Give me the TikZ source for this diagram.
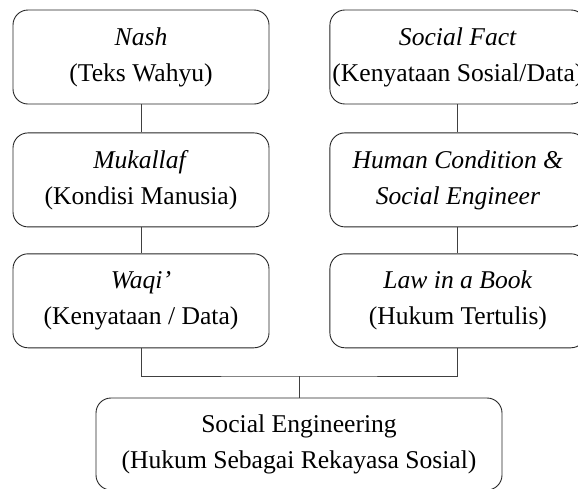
\documentclass[tikz,border=0pt]{standalone}
\usepackage{fontspec}
\setmainfont{Liberation Serif}
\usetikzlibrary{positioning}

\begin{document}
\begin{tikzpicture}[x=1pt, y=1pt]
	\tikzstyle{main}=[rectangle, rounded corners=15pt, draw=black!85, line width=0.9pt, minimum width=256pt, minimum height=94pt, inner xsep=1pt, align=center, font=\fontsize{25.6}{36}\selectfont, node distance=28pt]
\tikzstyle{connect}=[-, line width=0.9pt, draw=black!75]
\useasboundingbox (0,0) rectangle (578,-488);
\node[main] (nash) at (141,-57) {\textit{Nash}\\(Teks Wahyu)};
\node[main] (mukallaf) [below=of nash] {\textit{Mukallaf}\\(Kondisi Manusia)};
\node[main] (waqi) [below=26pt of mukallaf] {\textit{Waqi'}\\(Kenyataan / Data)};
\node[main] (fact) [right=60pt of nash] {\textit{Social Fact}\\(Kenyataan Sosial/Data)};
\node[main] (human) [below=of fact] {\textit{Human Condition \&}\\\textit{Social Engineer}};
\node[main] (law) [below=26pt of human] {\textit{Law in a Book}\\(Hukum Tertulis)};
\node[main, minimum width=406pt, minimum height=92pt] (rekayasa) at (299,-444) {Social Engineering\\(Hukum Sebagai Rekayasa Sosial)};
\coordinate (join) at (rekayasa.north |- 0,-376);
\path (nash) edge [connect] (mukallaf)
      (mukallaf) edge [connect] (waqi)
      (fact) edge [connect] (human)
      (human) edge [connect] (law)
      (join) edge [connect] (rekayasa);
\draw[connect] (waqi.south) |- (join) -| (law.south);
\end{tikzpicture}
\end{document}
